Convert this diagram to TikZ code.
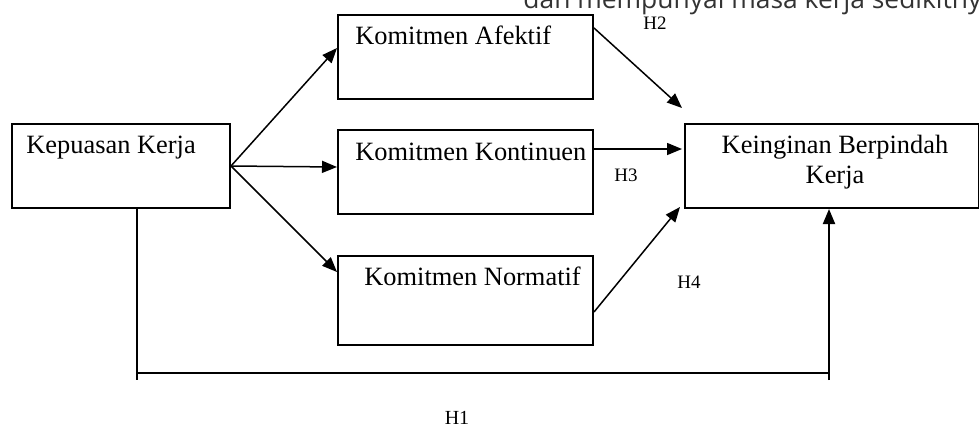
\documentclass[tikz,border=0pt]{standalone}
\usepackage{fontspec}
\setmainfont{Liberation Serif}
\newfontfamily\topfont{Open Sans}
\usetikzlibrary{arrows.meta,calc}
\tikzset{
  box/.style={draw=black, line width=1pt, rectangle, inner sep=0pt, anchor=north west},
  boxtext/.style={anchor=base west, inner sep=0pt, font=\fontsize{13.2}{16}\selectfont},
  conn/.style={line width=0.75pt, -{Triangle[length=7.5pt,width=6pt]}},
  hlabel/.style={font=\fontsize{9.5}{11}\selectfont, inner sep=0pt},
}
\begin{document}
\begin{tikzpicture}[x=0.5pt,y=-0.5pt]
\useasboundingbox (0,0) rectangle (979,440);
\clip (0,0) rectangle (979,440);
% top cut-off text
\node[anchor=base west, inner sep=0pt, font=\topfont\fontsize{13.2}{16}\selectfont, text=black!80] (top) at (523,8) {dan mempunyai masa kerja sedikitnya};
% boxes
\node[box, minimum width=109pt, minimum height=42pt] (kep) at (11,123) {};
\node[box, minimum width=127.5pt, minimum height=42pt] (afe) at (337,14) {};
\node[box, minimum width=127.5pt, minimum height=42pt] (kon) at (337,129) {};
\node[box, minimum width=127.5pt, minimum height=44.5pt] (nor) at (337,255) {};
\node[box, minimum width=147pt, minimum height=42pt] (kei) at (684,123) {};
% texts
\node[boxtext] (tkep) at ($(kep.north west)+(15,30)$) {Kepuasan Kerja};
\node[boxtext] (tafe) at ($(afe.north west)+(18,30)$) {Komitmen Afektif};
\node[boxtext] (tkon) at ($(kon.north west)+(18,31)$) {Komitmen Kontinuen};
\node[boxtext] (tnor) at ($(nor.north west)+(27,30)$) {Komitmen Normatif};
\node[anchor=base, inner sep=0pt, align=center, font=\fontsize{13.2}{15}\selectfont] (tkei) at ($(kei.north west)+(151,60)$) {Keinginan Berpindah\\Kerja};
% connectors from Kepuasan Kerja
\draw[conn] (kep.east) -- ($(afe.north west)+(0,34)$);
\draw[conn] (kep.east) -- ($(kon.north west)+(0,38)$);
\draw[conn] (kep.east) -- ($(nor.north west)+(0,17)$);
% connectors into Keinginan
\draw[conn] ($(afe.north east)+(0,14)$) -- ($(kei.north west)+(-2,-15)$);
\draw[conn] ($(kon.north east)+(0,20)$) -- ($(kei.north west)+(-2,26)$);
\draw[conn] ($(nor.north east)+(0,57)$) -- ($(kei.south west)+(-4,-2)$);
% H1 bracket
\coordinate (b1) at (137,380);
\coordinate (b2) at (829,380);
\draw[line width=1pt] ($(kep.south west)+(126,-2)$) -- (b1);
\draw[line width=0.75pt] (137,373) -- (829,373);
\draw[conn, line width=1pt] (b2) -- (kei.south west -| b2);
% labels
\node[hlabel] (h2) at (655,23) {H2};
\node[hlabel] (h3) at (626,175) {H3};
\node[hlabel] (h4) at (689,282) {H4};
\node[hlabel, font=\fontsize{10}{12}\selectfont] (h1) at (457,418) {H1};
\end{tikzpicture}
\end{document}
